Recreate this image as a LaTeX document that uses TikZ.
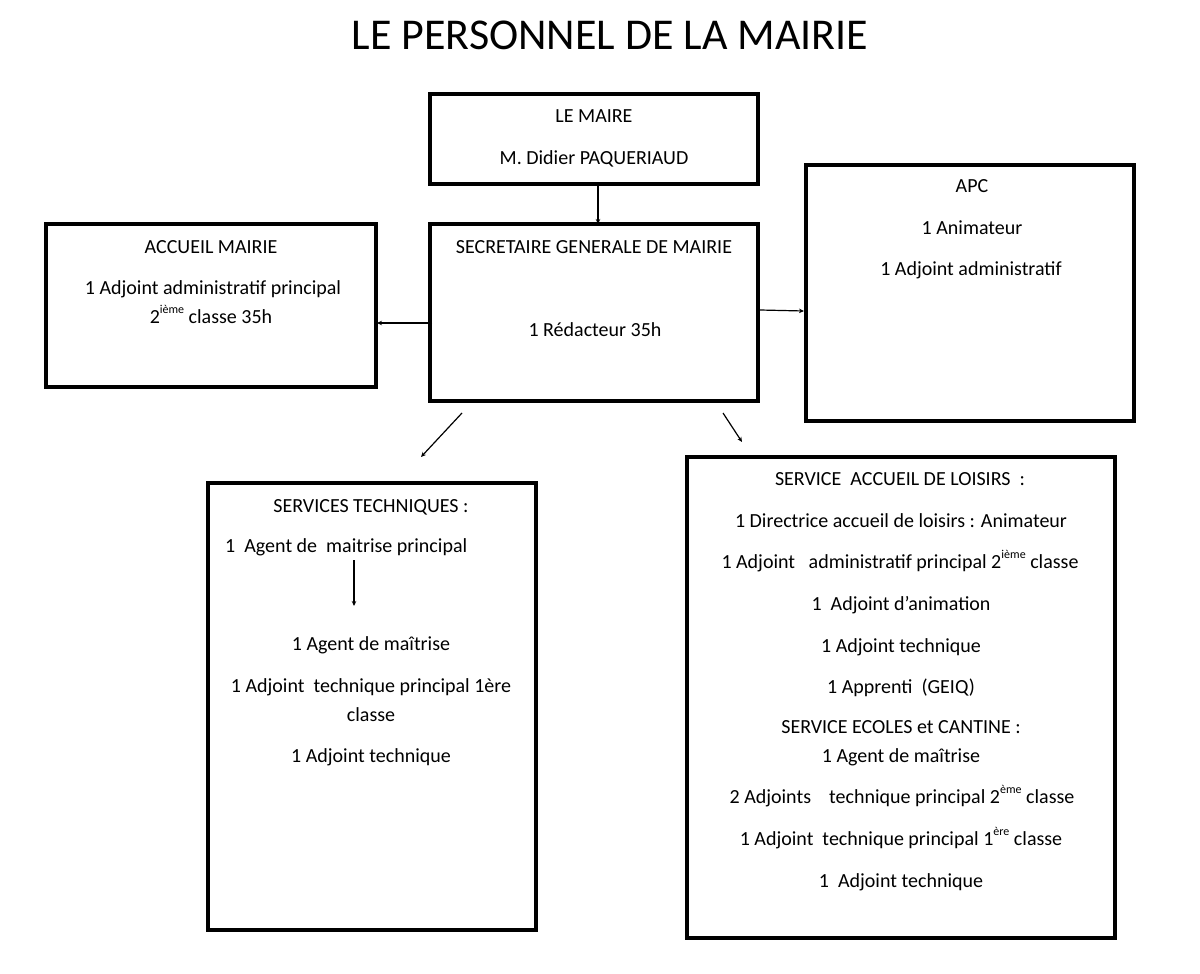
\documentclass[tikz,border=0pt]{standalone}
\usepackage{fontspec}
\setmainfont{Carlito}
\usetikzlibrary{arrows.meta}
\tikzset{
  box/.style={draw, line width=4.2pt, rectangle, inner sep=0pt, outer sep=0pt},
  txt/.style={anchor=base, inner sep=0pt, font=\fontsize{20}{24}\selectfont},
  conn/.style={line width=1.2pt, -{Stealth[length=5pt,width=4.5pt]}},
}
\newcommand{\sups}[1]{\raisebox{0.5em}{\fontsize{12}{12}\selectfont #1}}
\begin{document}
\begin{tikzpicture}[x=1pt,y=-1pt]
\useasboundingbox (0,0) rectangle (1200,974);
% title
\node[anchor=base, inner sep=0pt, font=\fontsize{44}{50}\selectfont] (title) at (610,50) {LE PERSONNEL DE LA MAIRIE};
% boxes
\node[box, minimum width=328pt, minimum height=90pt] (maire) at (594,139) {};
\node[box, minimum width=328pt, minimum height=177pt] (sec) at (594,312.5) {};
\node[box, minimum width=330pt, minimum height=163pt] (acc) at (211,305.5) {};
\node[box, minimum width=328pt, minimum height=256pt] (apc) at (970,293) {};
\node[box, minimum width=328pt, minimum height=447pt] (tech) at (372,706.5) {};
\node[box, minimum width=428pt, minimum height=481pt] (lois) at (901,697.5) {};
% Maire texts
\node[txt] (m1) at (594,122) {LE MAIRE};
\node[txt] (m2) at (594,164) {M. Didier PAQUERIAUD};
% Secretaire
\node[txt] (s1) at (594,253) {SECRETAIRE GENERALE DE MAIRIE};
\node[txt] (s2) at (595,336) {1 Rédacteur 35h};
% Accueil
\node[txt] (a1) at (211,253) {ACCUEIL MAIRIE};
\node[txt] (a2) at (213,294) {1 Adjoint administratif principal};
\node[txt] (a3) at (211,323) {2\sups{ième} classe 35h};
% APC
\node[txt] (p1) at (972,192) {APC};
\node[txt] (p2) at (972,234) {1 Animateur};
\node[txt] (p3) at (971,275) {1 Adjoint administratif};
% Services techniques
\node[txt] (t1) at (371,512) {SERVICES TECHNIQUES :};
\node[txt, anchor=base west] (t2) at (225,552) {1\ \ Agent de\ \ maitrise principal};
\coordinate (t2a) at (354,560);
\coordinate (t2b) at (354,606);
\node[txt] (t3) at (371,650) {1 Agent de maîtrise};
\node[txt] (t4) at (371,692) {1 Adjoint\ \ technique principal 1ère};
\node[txt] (t5) at (371,721) {classe};
\node[txt] (t6) at (371,762) {1 Adjoint technique};
% Loisirs
\node[txt] (l1) at (900,485) {SERVICE\ \ ACCUEIL DE LOISIRS\ \ :};
\node[txt] (l2) at (901,527) {1 Directrice accueil de loisirs : Animateur};
\node[txt] (l3) at (900,568) {1 Adjoint\ \ \ administratif principal 2\sups{ième} classe};
\node[txt] (l4) at (901,610) {1\ \ Adjoint d’animation};
\node[txt] (l5) at (901,652) {1 Adjoint technique};
\node[txt] (l6) at (901,693) {1 Apprenti\ \ (GEIQ)};
\node[txt] (l7) at (901,733) {SERVICE ECOLES et CANTINE :};
\node[txt] (l8) at (901,762) {1 Agent de maîtrise};
\node[txt] (l9) at (902,803) {2 Adjoints\ \ \ \ technique principal 2\sups{ème} classe};
\node[txt] (l10) at (901,845) {1 Adjoint\ \ technique principal 1\sups{ère} classe};
\node[txt] (l11) at (901,887) {1\ \ Adjoint technique};
% connectors
\coordinate (accin) at (377,323);
\coordinate (secl) at (432,323);
\coordinate (secr) at (760,310);
\coordinate (apcin) at (804,311);
\coordinate (d1a) at (462,413);
\coordinate (d1b) at (421,457);
\coordinate (d2a) at (723,413);
\coordinate (d2b) at (742,442);
\draw[conn] (maire.south -| 598,0) -- (sec.north -| 598,0);
\draw[conn] (secl) -- (accin);
\draw[conn] (secr) -- (apcin);
\draw[conn] (d1a) -- (d1b);
\draw[conn] (d2a) -- (d2b);
\draw[conn] (t2a) -- (t2b);
\end{tikzpicture}
\end{document}
